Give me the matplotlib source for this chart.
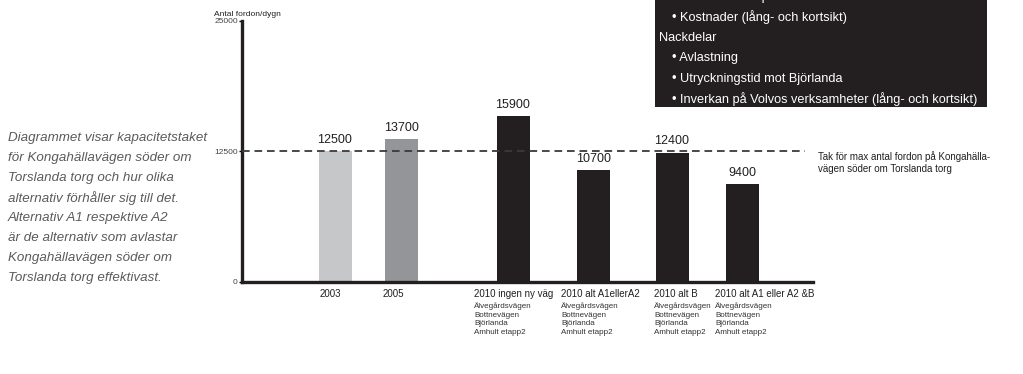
import matplotlib.pyplot as plt
from matplotlib.patches import Rectangle

plt.rcParams['font.family'] = ['Liberation Sans', 'DejaVu Sans']
plt.rcParams['lines.scale_dashes'] = False

# data
kategorier = ['2003', '2005', '2010 ingen ny väg', '2010 alt A1ellerA2',
              '2010 alt B', '2010 alt A1 eller A2 &B']
fordon = [12500, 13700, 15900, 10700, 12400, 9400]
farger = ['#c5c7c9', '#939598', '#231f20', '#231f20', '#231f20', '#231f20']
undertext = 'Älvegårdsvägen\nBottnevägen\nBjörlanda\nAmhult etapp2'
har_undertext = [False, False, True, True, True, True]
tak = 12500
y_ticks = [0, 12500, 25000]

beskrivning = ['Diagrammet visar kapacitetstaket',
               'för Kongahällavägen söder om',
               'Torslanda torg och hur olika',
               'alternativ förhåller sig till det.',
               'Alternativ A1 respektive A2',
               'är de alternativ som avlastar',
               'Kongahällavägen söder om',
               'Torslanda torg effektivast.']

ruta = [('• Framtida trafikplats', 1),
        ('• Kostnader (lång- och kortsikt)', 1),
        ('Nackdelar', 0),
        ('• Avlastning', 1),
        ('• Utryckningstid mot Björlanda', 1),
        ('• Inverkan på Volvos verksamheter (lång- och kortsikt)', 1)]

# layout (pixels relative to left of axes)
W, H = 1023, 374
xpos = [93, 159.5, 271, 351.5, 430, 500.5]
xlab = [78, 141, 232, 319, 412, 473]
bredd = 33

fig = plt.figure(figsize=(W / 100, H / 100), dpi=100)
ax = fig.add_axes([242 / W, (H - 282) / H, (813 - 242) / W, (282 - 21) / H])

ax.bar(xpos, fordon, width=bredd, color=farger, zorder=2)
for x, v in zip(xpos, fordon):
    ax.text(x, v + 500, str(v), ha='center', va='bottom', fontsize=9, color='#231f20')

ax.axhline(tak, xmin=0, xmax=(805 - 242) / 571, color='#3a3a3a', lw=1.3,
           dashes=(5.5, 3.5), zorder=3)
ax.text(576, tak, 'Tak för max antal fordon på Kongahälla-\nvägen söder om Torslanda torg',
        fontsize=7, color='#231f20', va='top', ha='left', linespacing=1.2,
        clip_on=False)

ax.set_xlim(0, 571)
ax.set_ylim(0, 25000)
for s in ['top', 'right']:
    ax.spines[s].set_visible(False)
for s in ['left', 'bottom']:
    ax.spines[s].set_linewidth(2.4)
    ax.spines[s].set_color('#231f20')
ax.set_xticks([])
ax.set_yticks(y_ticks)
ax.set_yticklabels([str(t) for t in y_ticks])
ax.tick_params(axis='y', length=2, width=1, pad=1, labelsize=6, labelcolor='#444444')

ax.text(-28, 25000 + 250, 'Antal fordon/dygn', fontsize=6, color='#231f20',
        ha='left', va='bottom', clip_on=False)

# kategorietiketter
for x, lab, sub in zip(xlab, kategorier, har_undertext):
    ax.text(x, -700, lab, fontsize=7, color='#231f20', ha='left', va='top', clip_on=False)
    if sub:
        ax.text(x, -1950, undertext, fontsize=5.8, color='#333333', ha='left', va='top',
                linespacing=1.3, clip_on=False)

# beskrivande text till vänster
for i, rad in enumerate(beskrivning):
    fig.text(8 / W, 1 - (138 + 20 * i) / H, rad, fontsize=9.6, style='italic',
             color='#5a5a5a', ha='left', va='center')

# svart ruta uppe till höger
fig.patches.append(Rectangle((655 / W, 1 - 107 / H), 332 / W, 110 / H,
                             transform=fig.transFigure, facecolor='#231f20',
                             edgecolor='none'))
for i, (rad, indrag) in enumerate(ruta):
    x = (672 if indrag else 659) / W
    fig.text(x, 1 - (-3 + 20.5 * i) / H, rad, fontsize=9.2, color='white',
             ha='left', va='center')

fig.savefig('out.png', dpi=100)
